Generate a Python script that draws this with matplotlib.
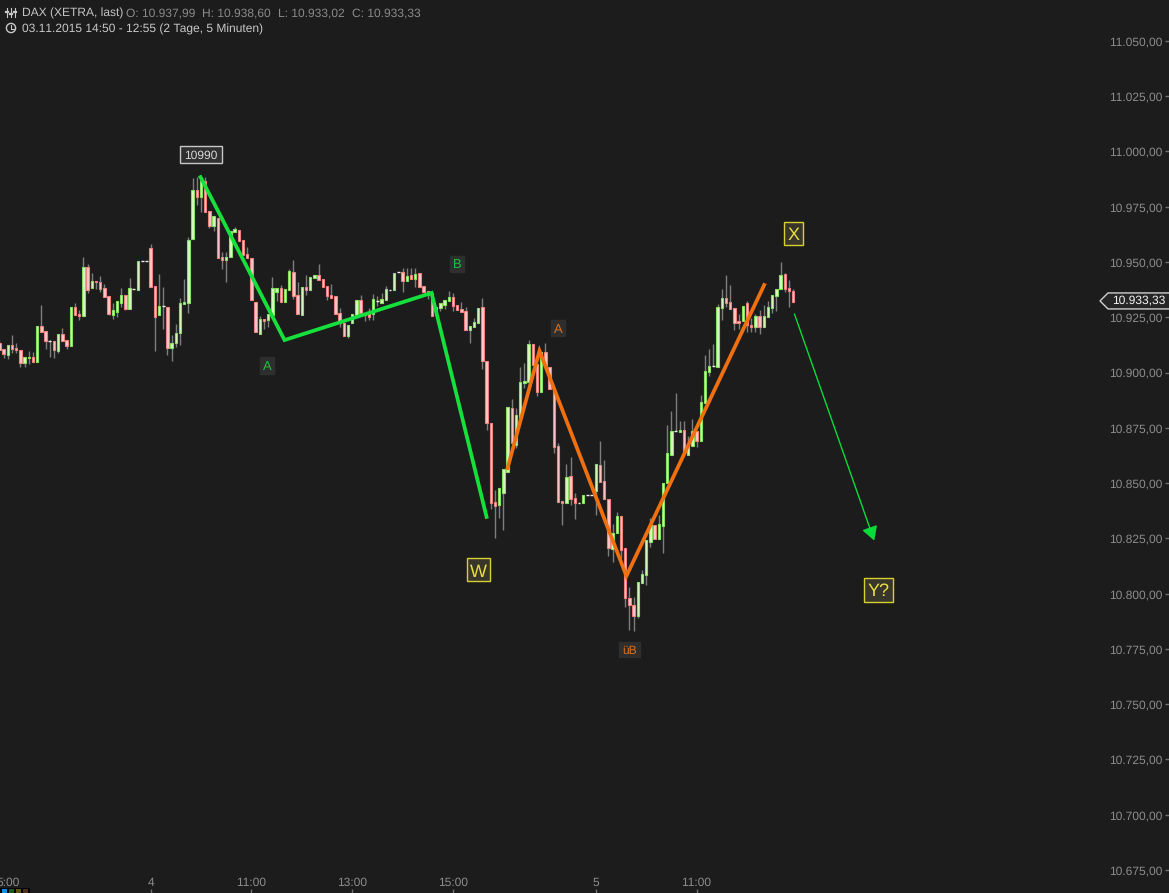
#!/usr/bin/env python3
import matplotlib
matplotlib.use("Agg")
import matplotlib.pyplot as plt
from matplotlib.patches import Circle, Polygon, Rectangle
from matplotlib.transforms import IdentityTransform

plt.rcParams['font.family'] = ['Liberation Sans', 'DejaVu Sans']
plt.rcParams['text.hinting'] = 'no_hinting'
plt.rcParams['text.hinting_factor'] = 1

# 5 minute candles
opens = [10913.5,10910.5,10908.1,10912.5,10911.1,10910.2,10904.5,10906.4,10906.9,10904.9,
 10921.1,10918.6,10914.2,10914.1,10909.9,10917.4,10914.6,10912.2,10929.6,10926.3,
 10925.7,10947.7,10938.4,10941.4,10941.0,10938.1,10934.6,10926.2,10927.4,10931.6,
 10934.9,10928.9,10937.6,10937.5,10950.3,10950.3,10956.3,10939.0,10926.0,10930.0,
 10929.5,10911.3,10913.2,10917.7,10931.0,10931.6,10960.3,10982.6,10979.6,10986.5,
 10973.0,10966.3,10969.8,10952.1,10951.1,10952.1,10963.7,10964.5,10960.0,10953.6,
 10951.7,10931.8,10917.5,10924.3,10923.8,10926.1,10936.6,10938.1,10932.0,10937.4,
 10945.4,10935.1,10926.2,10938.7,10937.4,10942.7,10944.2,10942.4,10939.2,10935.0,
 10934.4,10926.8,10922.3,10916.6,10922.3,10925.9,10932.9,10927.1,10926.8,10926.5,
 10932.3,10931.3,10932.6,10937.5,10937.4,10945.4,10945.4,10941.5,10944.2,10942.2,
 10945.1,10939.2,10936.9,10935.9,10925.9,10929.2,10930.7,10932.3,10934.1,10930.6,
 10928.6,10928.0,10919.3,10920.5,10922.3,10929.5,10905.1,10877.1,10841.3,10840.3,
 10845.7,10855.2,10883.8,10867.1,10880.1,10895.1,10895.8,10912.8,10903.7,10891.4,
 10909.5,10902.7,10892.1,10866.8,10841.9,10840.9,10853.2,10843.1,10841.2,10841.2,
 10844.6,10844.6,10846.6,10858.2,10850.8,10842.8,10820.3,10827.3,10835.1,10820.5,
 10798.0,10794.9,10789.9,10804.7,10808.4,10823.5,10831.1,10824.7,10830.8,10849.9,
 10862.9,10873.4,10873.2,10874.0,10862.5,10866.9,10873.4,10869.2,10886.4,10900.2,
 10903.0,10902.6,10929.2,10933.7,10931.8,10929.0,10923.3,10923.3,10931.3,10921.5,
 10920.7,10925.6,10920.7,10925.3,10929.3,10934.8,10937.8,10944.7,10938.2,10936.9]
closes = [10910.2,10908.5,10912.3,10910.6,10910.3,10904.5,10906.9,10906.9,10904.8,10921.1,
 10918.5,10914.1,10914.2,10910.2,10917.3,10914.4,10912.0,10929.6,10926.2,10925.7,
 10947.7,10937.5,10941.4,10940.8,10937.9,10934.2,10926.5,10928.1,10932.2,10934.9,
 10928.7,10938.1,10937.6,10950.3,10950.3,10950.3,10938.8,10925.0,10930.0,10930.0,
 10911.3,10913.2,10917.7,10931.3,10931.7,10959.8,10982.6,10979.6,10986.5,10972.8,
 10966.3,10970.7,10951.8,10951.1,10952.1,10964.2,10964.8,10959.7,10953.2,10952.0,
 10932.9,10918.5,10924.3,10923.1,10926.4,10938.1,10938.1,10932.1,10937.7,10946.0,
 10934.8,10926.5,10938.7,10937.4,10943.4,10944.2,10941.9,10938.6,10934.7,10933.8,
 10926.5,10922.6,10916.6,10921.5,10926.5,10932.7,10926.8,10925.9,10925.0,10933.2,
 10932.3,10933.2,10937.7,10937.5,10944.9,10945.4,10941.2,10943.7,10942.4,10944.6,
 10938.9,10936.3,10935.1,10925.6,10929.8,10931.3,10932.9,10934.1,10930.1,10928.3,
 10927.4,10919.3,10921.1,10922.8,10929.1,10905.0,10877.1,10841.2,10839.8,10847.6,
 10856.2,10884.3,10868.3,10880.7,10895.6,10896.0,10912.8,10903.4,10891.4,10909.2,
 10903.0,10892.4,10866.5,10841.6,10840.9,10852.6,10843.0,10841.2,10841.2,10844.6,
 10844.6,10844.6,10858.5,10850.5,10842.8,10820.8,10827.3,10835.1,10819.9,10797.9,
 10794.9,10790.0,10805.1,10808.9,10824.3,10831.1,10824.7,10831.5,10849.9,10863.5,
 10873.4,10873.4,10874.0,10864.2,10866.8,10873.4,10869.2,10886.7,10900.7,10903.0,
 10903.0,10929.5,10933.7,10931.6,10928.9,10922.6,10922.4,10930.1,10921.5,10920.7,
 10925.6,10920.7,10925.6,10929.6,10935.1,10937.8,10944.1,10937.8,10937.0,10932.0]
highs = [10914.5,10910.5,10912.3,10917.0,10913.2,10910.2,10906.9,10909.9,10909.1,10921.1,
 10930.6,10918.6,10914.7,10914.1,10917.3,10920.0,10914.6,10929.6,10931.3,10928.3,
 10952.1,10949.0,10944.9,10941.4,10943.7,10940.1,10934.6,10931.3,10932.2,10938.1,
 10934.9,10942.6,10937.6,10950.3,10950.3,10950.3,10958.2,10939.0,10944.6,10938.8,
 10929.5,10917.0,10922.0,10933.6,10942.3,10961.2,10987.9,10988.3,10988.6,10988.6,
 10973.0,10970.7,10969.8,10954.7,10954.7,10964.2,10966.0,10964.5,10960.0,10956.6,
 10951.7,10931.8,10925.6,10924.3,10926.4,10943.4,10938.1,10939.6,10937.7,10946.7,
 10951.0,10941.1,10938.7,10944.2,10943.4,10944.2,10949.1,10942.4,10939.2,10940.1,
 10934.4,10929.1,10922.3,10921.5,10926.5,10932.7,10935.1,10927.1,10929.1,10935.6,
 10934.4,10935.9,10939.2,10937.5,10944.9,10945.4,10947.2,10947.2,10947.2,10947.2,
 10945.1,10939.2,10936.9,10935.9,10929.8,10931.3,10932.9,10937.1,10935.9,10930.6,
 10932.1,10929.8,10921.1,10924.6,10929.1,10933.6,10905.1,10877.1,10846.9,10847.6,
 10856.2,10884.3,10887.9,10883.8,10902.7,10904.2,10914.8,10912.8,10903.7,10909.2,
 10913.5,10902.7,10892.1,10868.3,10841.9,10858.7,10861.7,10845.4,10841.2,10844.6,
 10844.6,10844.6,10858.5,10869.1,10860.5,10842.8,10831.5,10837.1,10835.1,10820.5,
 10803.2,10798.3,10805.1,10810.7,10824.3,10834.1,10831.1,10835.6,10849.9,10876.1,
 10882.8,10890.6,10878.1,10877.9,10871.3,10879.0,10873.4,10889.8,10907.9,10910.5,
 10912.9,10931.0,10937.8,10944.1,10939.6,10929.0,10926.3,10930.1,10932.4,10924.5,
 10926.3,10928.3,10930.5,10932.5,10935.1,10937.8,10949.8,10944.9,10941.9,10937.8]
lows = [10910.2,10906.4,10906.0,10908.7,10908.7,10902.7,10902.7,10903.9,10904.8,10904.9,
 10918.5,10910.5,10907.2,10906.4,10908.8,10914.4,10910.5,10912.2,10926.2,10923.8,
 10925.7,10936.1,10938.4,10937.8,10936.6,10934.2,10926.0,10924.1,10925.3,10929.8,
 10928.3,10928.9,10937.6,10937.5,10950.3,10950.3,10938.8,10909.9,10926.0,10919.5,
 10907.9,10905.4,10911.7,10912.5,10931.0,10926.8,10960.3,10975.8,10972.8,10972.8,
 10965.2,10964.2,10951.8,10946.7,10941.1,10952.1,10963.7,10959.7,10953.2,10952.0,
 10932.9,10918.5,10917.5,10919.7,10920.8,10926.1,10932.4,10932.1,10932.0,10937.4,
 10933.2,10926.5,10926.2,10935.1,10937.4,10942.7,10941.9,10938.6,10932.9,10933.8,
 10926.5,10920.5,10916.6,10915.4,10922.3,10925.9,10926.8,10923.1,10923.8,10923.8,
 10930.3,10931.3,10932.6,10937.5,10937.4,10945.4,10936.6,10941.5,10942.4,10938.9,
 10938.9,10936.3,10933.2,10925.6,10925.9,10928.0,10928.8,10932.3,10928.0,10928.3,
 10927.4,10919.3,10913.3,10920.5,10922.3,10901.5,10874.0,10838.1,10825.0,10834.1,
 10828.8,10855.2,10868.3,10865.8,10880.1,10892.9,10895.8,10903.4,10889.4,10891.4,
 10903.0,10892.4,10863.5,10841.6,10831.1,10840.9,10840.1,10833.8,10841.2,10841.2,
 10844.6,10844.6,10835.6,10850.5,10842.8,10817.0,10814.5,10827.3,10816.0,10793.8,
 10783.6,10783.3,10788.8,10804.7,10803.9,10821.3,10824.7,10824.7,10818.2,10849.9,
 10862.9,10873.4,10873.2,10864.2,10862.5,10866.9,10866.5,10869.2,10886.4,10898.4,
 10903.0,10902.6,10923.8,10929.5,10928.9,10919.2,10919.5,10923.3,10918.2,10918.5,
 10918.5,10917.3,10920.7,10925.3,10926.8,10928.0,10937.8,10936.6,10929.5,10932.0]

y_ticks = [11050,11025,11000,10975,10950,10925,10900,10875,10850,10825,10800,10775,10750,10725,10700,10675]
y_labels = ["11.050,00","11.025,00","11.000,00","10.975,00","10.950,00","10.925,00","10.900,00","10.875,00",
            "10.850,00","10.825,00","10.800,00","10.775,00","10.750,00","10.725,00","10.700,00","10.675,00"]
x_ticks = [2, 36, 60, 84, 108, 142, 166]
x_labels = ["5:00", "4", "11:00", "13:00", "15:00", "5", "11:00"]

# wave drawings
green_x = [47.9, 67.9, 102.9, 116.0]
green_y = [10988.4, 10914.7, 10936.0, 10834.7]
orange_x = [121.0, 128.6, 149.3, 182.1]
orange_y = [10856.8, 10909.8, 10808.0, 10939.6]
last_price = 10933.33

bg = "#1c1c1c"
up_edge, up_fill = "#86e060", "#dcf7c4"
down_edge, down_fill = "#ee8080", "#ffcaca"
tick_col = "#8c8c8c"
x0 = 0.15
bar_px = 4.2      # pixels per candle
pt_px = 0.4523    # points of price per pixel

fig = plt.figure(figsize=(11.69, 8.93), dpi=100, facecolor=bg)
ax = fig.add_axes([0, 0, 1, 1], facecolor=bg)
ax.set_xlim(x0, x0 + 1169 / bar_px)
ax.set_ylim(10664.6, 11068.5)
for s in ax.spines.values():
    s.set_visible(False)

# candles
idx = list(range(len(opens)))
ax.vlines(idx, lows, highs, color="#7d7d7d", lw=1, zorder=2)
for i in idx:
    o, c = opens[i], closes[i]
    if abs(o - c) < 0.3:
        ax.hlines(o, i - 0.35, i + 0.35, color="#f0f0e8", lw=1, zorder=3)
        continue
    edge, fill = (up_edge, up_fill) if c > o else (down_edge, down_fill)
    ax.bar(i, abs(c - o), bottom=min(o, c), width=0.6, color=fill, edgecolor=edge, lw=0.8, zorder=3)

ax.plot(green_x, green_y, color="#16e03c", lw=2.7, solid_joinstyle="miter", zorder=5)
ax.plot(orange_x, orange_y, color="#f07010", lw=2.7, solid_joinstyle="miter", zorder=5)
ax.annotate("", xy=(208.3, 10824.0), xytext=(189.3, 10926.5), zorder=5,
            arrowprops=dict(arrowstyle="-|>,head_length=0.7,head_width=0.4", color="#08dc3a", lw=1.0,
                            mutation_scale=12, shrinkA=0, shrinkB=0))

# axis labels sit inside the picture
ax.yaxis.tick_right()
ax.set_yticks(y_ticks, y_labels, color=tick_col, fontsize=8.8, ha="right")
ax.tick_params(axis="y", direction="in", length=3, width=1, color="#707070", pad=-5)
ax.set_xticks(x_ticks, x_labels, color=tick_col, fontsize=8.8, va="bottom")
ax.tick_params(axis="x", direction="in", length=3, width=1, color="#707070", pad=-3.6)


def tag(x, y, s, col, edge, face, size, w, h):
    dw, dh = w * 0.5 / bar_px, h * 0.5 * pt_px
    ax.add_patch(Rectangle((x - dw, y - dh), 2 * dw, 2 * dh, fc=face, ec=edge, lw=1, zorder=6))
    ax.text(x, y, s, color=col, fontsize=size, ha="center", va="center_baseline", zorder=7)


tag(47.9, 10998.4, "10990", "#d8d8d8", "#c8c8c8", "#303030", 8.8, 42, 17)
tag(63.8, 10903.4, "A", "#1fc040", "#2e2e2e", "#2e2e2e", 9, 14, 17)
tag(109.0, 10949.2, "B", "#1fc040", "#2e2e2e", "#2e2e2e", 9, 14, 16)
tag(133.1, 10920.0, "A", "#e07018", "#2e2e2e", "#2e2e2e", 9, 14, 16)
tag(150.0, 10774.6, "üB", "#e07018", "#2e2e2e", "#2e2e2e", 8.6, 21, 15)
tag(114.0, 10810.7, "W", "#e8e040", "#d8d030", "#38352a", 13, 23, 23)
tag(189.0, 10962.7, "X", "#e8e040", "#d8d030", "#38352a", 13, 19, 23)
tag(209.3, 10801.7, "Y?", "#e8e040", "#d8d030", "#38352a", 13, 29, 24)

# last price flag
flag = [(1100, 301), (1108, 293), (1170, 293), (1170, 309), (1108, 309)]
flag_d = [(x0 + px / bar_px, 10900 + (372.6 - py) * pt_px) for px, py in flag]
ax.add_patch(Polygon(flag_d, closed=True, fc="#262626", ec="#d0d0d0", lw=1, zorder=6, clip_on=False))
ax.text(x0 + 1139 / bar_px, last_price - 0.8, "10.933,33", color="#f4f4f4", fontsize=8.8,
        ha="center", va="center", zorder=7)

# header
def head(px, py, s, col, size=8.7):
    fig.text(px / 1169, 1 - py / 893, s, color=col, fontsize=size, ha="left", va="center")


head(22, 13, "DAX (XETRA, last)", "#c4c4c4", 8.4)
head(126, 13, "O: 10.937,99", "#8a8a8a")
head(202, 13, "H: 10.938,60", "#8a8a8a")
head(278, 13, "L: 10.933,02", "#8a8a8a")
head(352, 13, "C: 10.933,33", "#8a8a8a")
head(22, 29, "03.11.2015 14:50 - 12:55 (2 Tage, 5 Minuten)", "#c8c8c8")

tr = IdentityTransform()
fig.add_artist(Circle((11, 893 - 28), 4.6, transform=tr, fill=False, ec="#c8c8c8", lw=1))
fig.add_artist(plt.Line2D([11, 11, 14], [893 - 25, 893 - 28.5, 893 - 28.5], transform=tr, color="#c8c8c8", lw=0.8))
for bx, by in [(7, 12), (11, 14), (15, 12)]:
    fig.add_artist(plt.Line2D([bx, bx], [893 - 17, 893 - 8], transform=tr, color="#c8c8c8", lw=0.8))
    fig.add_artist(plt.Line2D([bx - 1, bx + 1], [893 - by, 893 - by], transform=tr, color="#c8c8c8", lw=1.6))

# colour chips bottom left
fig.add_artist(plt.Rectangle((0, 0), 30, 5, transform=tr, fc="#000000", ec="none"))
for cx, col in zip([2, 9, 16, 23], ["#1090e0", "#106020", "#605810", "#503018"]):
    fig.add_artist(plt.Rectangle((cx, 0), 5, 4, transform=tr, fc=col, ec="none"))

fig.savefig("out.png", dpi=100, facecolor=bg)
